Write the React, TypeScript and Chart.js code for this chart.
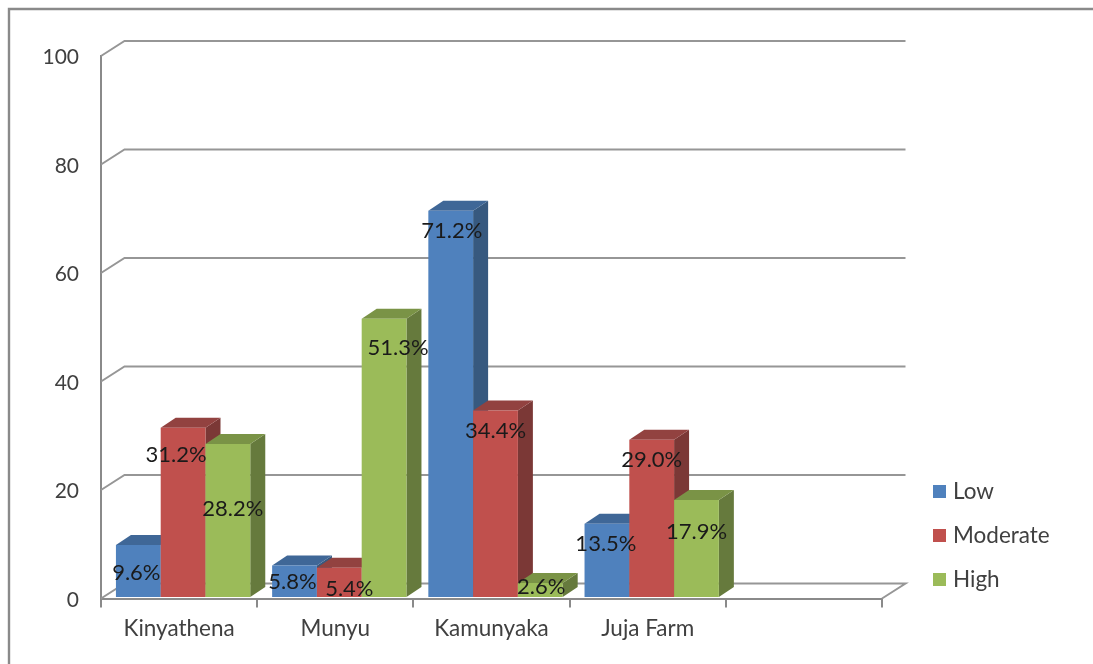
import React, { useEffect, useRef } from "react";
import { Chart, registerables } from "chart.js";

Chart.register(...registerables);

const categories = ["Kinyathena", "Munyu", "Kamunyaka", "Juja Farm", ""];
const seriesNames = ["Low", "Moderate", "High"];
const lowValues = [9.6, 5.8, 71.2, 13.5, null];
const moderateValues = [31.2, 5.4, 34.4, 29.0, null];
const highValues = [28.2, 51.3, 2.6, 17.9, null];

// Hand-placed data label nudges (dx, dy from the bar's top centre), as in the original.
const lowLabelNudge = [[-2, 26], [-2, 15], [1, 19], [-1, 19]];
const moderateLabelNudge = [[-7, 26], [10, 20], [0, 19], [0, 19]];
const highLabelNudge = [[5, 63], [14, 28], [1, 3], [0, 31]];
const labelNudges = [lowLabelNudge, moderateLabelNudge, highLabelNudge];

const FONT = "Lato, 'Open Sans', sans-serif";
const LINE = "#8a8a8a";
const frontColors = ["#4F81BD", "#C0504D", "#9BBB59"];
const topColors = ["#3F6797", "#924240", "#7A9346"];
const sideColors = ["#37597F", "#7B3836", "#667A3D"];
const WALL_DX = 23.5;
const WALL_DY = -15;
const BAR_DX = 15;
const BAR_DY = -10;
const SHIFT_X = 4;
const SHIFT_Y = -1.5;

const poly = (ctx: CanvasRenderingContext2D, pts: number[][], fill: string) => {
  ctx.beginPath();
  pts.forEach(([x, y], i) => (i ? ctx.lineTo(x, y) : ctx.moveTo(x, y)));
  ctx.closePath();
  ctx.fillStyle = fill;
  ctx.fill();
};

const scene3d = {
  id: "scene3d",
  beforeDraw(chart: any) {
    const { ctx, width, height } = chart;
    ctx.save();
    ctx.strokeStyle = LINE;
    ctx.lineWidth = 2.4;
    ctx.beginPath();
    ctx.moveTo(width, 9);
    ctx.lineTo(9, 9);
    ctx.lineTo(9, height);
    ctx.stroke();
    ctx.restore();
  },
  beforeDatasetsDraw(chart: any) {
    const { ctx, scales } = chart;
    const { x, y } = scales;
    ctx.save();
    ctx.strokeStyle = "#969696";
    ctx.lineWidth = 2;
    for (const t of y.ticks) {
      const py = y.getPixelForValue(t.value);
      ctx.beginPath();
      ctx.moveTo(x.left, py);
      ctx.lineTo(x.left + WALL_DX, py + WALL_DY);
      ctx.lineTo(x.right + WALL_DX, py + WALL_DY);
      if (t.value === 0) ctx.lineTo(x.right, py);
      ctx.stroke();
    }
    ctx.translate(SHIFT_X, SHIFT_Y);
    chart.data.datasets.forEach((_: any, di: number) => {
      const meta = chart.getDatasetMeta(di);
      meta.data.forEach((el: any, i: number) => {
        if (chart.data.datasets[di].data[i] == null) return;
        const l = el.x - el.width / 2;
        const r = el.x + el.width / 2;
        poly(ctx, [[r, el.y], [r + BAR_DX, el.y + BAR_DY], [r + BAR_DX, el.base + BAR_DY], [r, el.base]], sideColors[di]);
        poly(ctx, [[l, el.y], [l + BAR_DX, el.y + BAR_DY], [r + BAR_DX, el.y + BAR_DY], [r, el.y]], topColors[di]);
      });
      meta.controller.draw();
    });
    ctx.restore();
    return false;
  },
  afterDraw(chart: any) {
    const { ctx } = chart;
    ctx.save();
    ctx.textAlign = "center";
    ctx.textBaseline = "middle";
    ctx.font = `22px ${FONT}`;
    ctx.fillStyle = "#1a1a1a";
    chart.data.datasets.forEach((ds: any, di: number) => {
      chart.getDatasetMeta(di).data.forEach((el: any, i: number) => {
        const v = ds.data[i];
        if (v == null) return;
        const [dx, dy] = labelNudges[di][i];
        ctx.fillText(`${v.toFixed(1)}%`, el.x + SHIFT_X + dx, el.y + dy);
      });
    });
    // Legend
    ctx.textAlign = "left";
    ctx.font = `22.5px ${FONT}`;
    chart.data.datasets.forEach((ds: any, di: number) => {
      const cy = 491.5 + di * 44;
      ctx.fillStyle = frontColors[di];
      ctx.fillRect(933, cy - 6.5, 13, 13);
      ctx.fillStyle = "#404040";
      ctx.fillText(ds.label, 953, cy);
    });
    ctx.restore();
  },
};

export default function App() {
  const ref = useRef<HTMLCanvasElement>(null);
  useEffect(() => {
    const chart = new Chart(ref.current as HTMLCanvasElement, {
      type: "bar",
      data: {
        labels: categories,
        datasets: [lowValues, moderateValues, highValues].map((data, i) => ({
          label: seriesNames[i],
          data,
          backgroundColor: frontColors[i],
          borderWidth: 0,
          categoryPercentage: 0.86,
          barPercentage: 1,
        })),
      },
      options: {
        responsive: false,
        animation: false,
        layout: { padding: { top: 56, right: 211, left: 0, bottom: 0 } },
        plugins: { legend: { display: false }, tooltip: { enabled: false } },
        scales: {
          x: {
            afterFit: (s: any) => { s.height = 65.5; },
            grid: { display: true, drawOnChartArea: false, drawTicks: true, tickLength: 9, color: LINE, lineWidth: 2, offset: true },
            border: { display: true, color: LINE, width: 2 },
            ticks: { color: "#404040", font: { family: FONT, size: 22.5 }, padding: 8, maxRotation: 0, autoSkip: false },
          },
          y: {
            min: 0,
            max: 100,
            afterFit: (s: any) => { s.width = 101; },
            grid: { display: false },
            border: { display: true, color: LINE, width: 2 },
            ticks: { stepSize: 20, color: "#404040", font: { family: FONT, size: 21 }, padding: 14, labelOffset: 1.5 },
          },
        },
      },
      plugins: [scene3d],
    } as any);
    return () => chart.destroy();
  }, []);
  return (
    <div style={{ position: "absolute", left: 0, top: 0, width: 1093, height: 664, overflow: "hidden", background: "#fff" }}>
      <canvas ref={ref} width={1093} height={664} />
    </div>
  );
}
